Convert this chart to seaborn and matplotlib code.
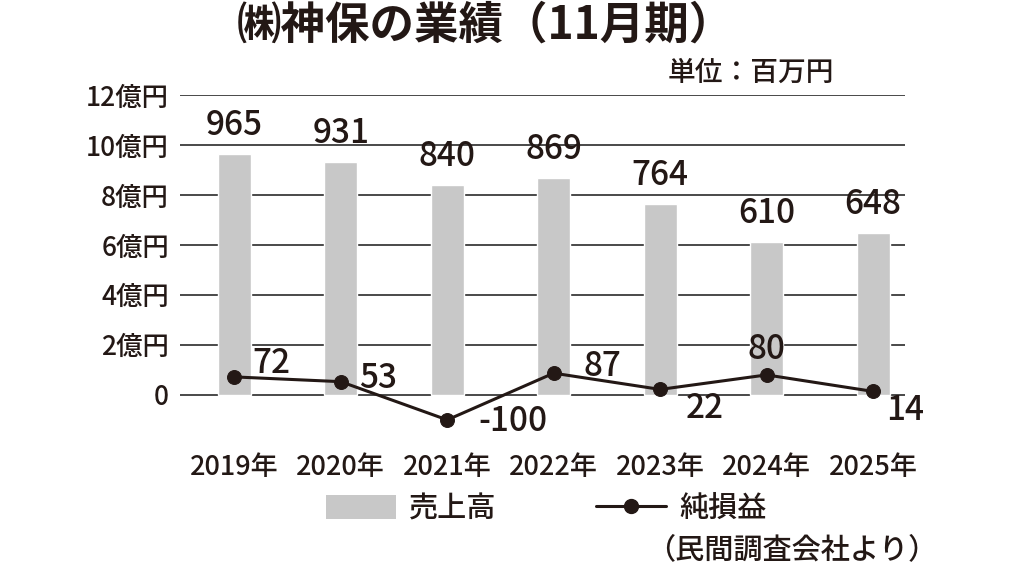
import numpy as np
import pandas as pd
import matplotlib
matplotlib.use("Agg")
import matplotlib.pyplot as plt
import seaborn as sns
from matplotlib.patches import Patch
from matplotlib.lines import Line2D

# データ（単位：百万円）
years = ["2019年", "2020年", "2021年", "2022年", "2023年", "2024年", "2025年"]
sales = [965, 931, 840, 869, 764, 610, 648]
profit = [72, 53, -100, 87, 22, 80, 14]
ytick_labels = ["0", "2億円", "4億円", "6億円", "8億円", "10億円", "12億円"]

# 純損益ラベルのずらし（ポイント）
profit_offsets = [(27, 10), (27, 2), (47, -1), (35, 5), (32, -14), (0, 18), (23, -14)]

sns.set_theme(style="white")
plt.rcParams['font.family'] = ['Noto Sans CJK JP', 'DejaVu Sans']
plt.rcParams['font.weight'] = 'medium'
ink = "#231815"
gray = "#c8c8c8"

df = pd.DataFrame({"year": years,
                   "sales": np.array(sales) / 100,
                   "profit": np.array(profit) / 100})

fig = plt.figure(figsize=(10.24, 5.76), dpi=100)
ax = fig.add_axes([0.1758, 0.258, 0.708, 0.577])

# 売上高（棒）
sns.barplot(data=df, x="year", y="sales", color=gray, width=0.31,
            saturation=1, ax=ax, zorder=2)
# 純損益（折れ線）
sns.lineplot(data=df, x="year", y="profit", color=ink, lw=2.2, marker="o",
             markersize=10, markeredgecolor=ink, ax=ax, zorder=3, sort=False)

ax.set_ylim(-1.3, 12)
ax.set_xlim(-0.51, 6.3)
ax.set_yticks(range(0, 13, 2))
ax.set_yticklabels(ytick_labels, fontsize=19, color=ink)
ax.set_xticklabels(years, fontsize=19.5, color=ink)
ax.tick_params(axis="y", length=0, pad=8)
ax.tick_params(axis="x", length=0, pad=19)
for y in range(0, 13, 2):
    ax.axhline(y, color="#3a3a3a", lw=1.3, zorder=1)
for s in ax.spines.values():
    s.set_visible(False)
ax.set_xlabel("")
ax.set_ylabel("")

# 数値ラベル
for i, v in enumerate(sales):
    ax.annotate(str(v), (i, v / 100), xytext=(0, 8), textcoords="offset points",
                ha="center", va="bottom", fontsize=24, color=ink)
for i, v in enumerate(profit):
    dx, dy = profit_offsets[i]
    ax.annotate(str(v), (i, v / 100), xytext=(dx, dy), textcoords="offset points",
                ha="center", va="center", fontsize=24, color=ink)

fig.text(0.474, 0.955, "㈱神保の業績（11月期）", ha="center", va="center",
         fontsize=32, fontweight="bold", color=ink)
fig.text(0.815, 0.875, "単位：百万円", ha="right", va="center", fontsize=20, color=ink)

handles = [Patch(facecolor=gray, edgecolor="none"),
           Line2D([], [], color=ink, lw=2.2, marker="o", markersize=10)]
fig.legend(handles, ["売上高", "純損益"], ncol=2, frameon=False, fontsize=21,
           loc="center left", bbox_to_anchor=(0.293, 0.117),
           handlelength=2.4, handleheight=0.9, handletextpad=0.45,
           columnspacing=3.4, labelcolor=ink)
fig.text(0.915, 0.045, "（民間調査会社より）", ha="right", va="center",
         fontsize=21, color=ink)

fig.savefig("out.png", dpi=100, facecolor="white")
